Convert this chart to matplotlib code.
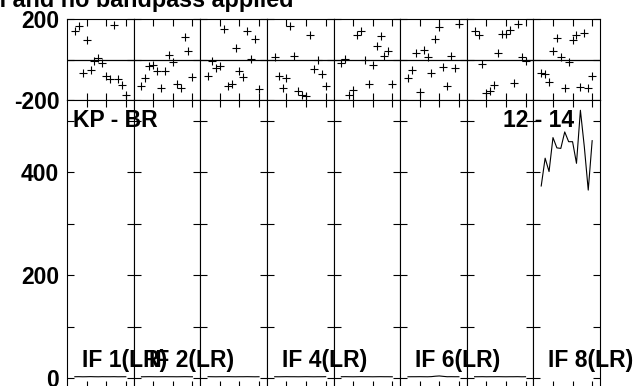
import numpy as np
import matplotlib.pyplot as plt

plt.rcParams['font.family'] = ['Liberation Sans', 'DejaVu Sans']
plt.rcParams['font.weight'] = 'bold'
plt.rcParams['font.size'] = 16.5

# channels plotted in every IF
chan = np.arange(2, 16)
if_labels = ['IF 1(LR)', 'IF 2(LR)', '', 'IF 4(LR)', '', 'IF 6(LR)', '', 'IF 8(LR)']
title = 'No cal and no bandpass applied'
baseline_label = 'KP - BR'
time_label = '12 - 14'

# phase (deg) per IF, channels 2..15
phase = [
    [140, 167, -67, 98, -50, -8, 8, -17, -80, -97, 170, -97, -125, -173],
    [-133, -93, -33, -27, -55, -143, -55, 20, -13, -120, -140, 110, 40, -88],
    [-83, -5, -43, -30, 150, -130, -122, 57, -57, -88, 143, 3, 103, -147],
    [10, -80, -140, -93, 167, 17, -157, -173, -180, 123, -47, -3, -73, -130],
    [-17, 3, -177, -150, 123, 140, 0, -123, -27, 67, 117, 17, 43, -120],
    [-93, -50, 33, -160, 47, 13, -67, 103, 160, -37, -133, 17, -40, 177],
    [143, 120, -22, -163, -157, -127, 33, 127, 127, 147, -117, 177, 10, -7],
    [-67, -73, -110, 43, 107, 10, -140, -10, 97, 123, -137, 133, -143, -80],
]
# amplitude per IF, channels 2..15
amp = [
    [2.5, 2.6, 2.4, 2.5, 2.7, 2.5, 2.4, 2.6, 2.5, 2.5, 2.6, 2.4, 2.5, 2.5],
    [2.4, 2.5, 2.6, 2.5, 2.4, 2.5, 2.6, 2.5, 2.5, 2.4, 2.5, 2.6, 2.5, 2.4],
    [2.6, 2.5, 2.4, 2.5, 2.5, 2.6, 2.5, 2.4, 2.5, 2.5, 2.6, 2.5, 2.4, 2.5],
    [2.5, 2.4, 2.5, 2.6, 2.5, 2.5, 2.4, 2.5, 2.6, 2.5, 2.4, 2.5, 2.5, 2.6],
    [2.5, 2.6, 2.5, 2.4, 2.5, 2.6, 2.5, 2.5, 2.4, 2.5, 2.6, 2.5, 2.5, 2.4],
    [2.4, 2.5, 2.5, 2.6, 2.5, 2.4, 2.7, 3.5, 4.0, 3.2, 2.5, 2.6, 2.5, 2.5],
    [2.5, 2.5, 2.6, 2.4, 2.5, 2.5, 2.6, 2.5, 2.4, 2.5, 2.5, 2.6, 2.4, 2.5],
    [373, 427, 401, 467, 447, 446, 478, 459, 459, 417, 520, 449, 365, 461],
]

W, H = 636, 386
fig = plt.figure(figsize=(W / 100, H / 100), dpi=100)

x0 = 67.0
pw = 533.0 / 8

def px(x, y, w, h):
    # pixel box (top-left origin) -> figure fraction rect
    return [x / W, (H - y - h) / H, w / W, h / H]

for i in range(8):
    left = x0 + i * pw
    axp = fig.add_axes(px(left, 19, pw, 81))
    axa = fig.add_axes(px(left, 100, pw, 288))

    axp.plot(chan, phase[i], '+', color='black', ms=5.5, mew=0.8)
    axp.axhline(0, color='black', lw=0.9)
    axp.set_xlim(0, 17)
    axp.set_ylim(-200, 200)
    axp.set_yticks([-200, 0, 200])

    axa.plot(chan, amp[i], color='black', lw=0.8)
    axa.set_xlim(0, 17)
    axa.set_ylim(-19.4, 540)
    axa.set_yticks([0, 100, 200, 300, 400, 500])

    for ax in (axp, axa):
        ax.set_xticks([5, 10, 15])
        ax.tick_params(direction='in', length=5, width=0.8, top=True, right=True,
                       labelbottom=False, labelleft=(i == 0), pad=5.5)
        for s in ax.spines.values():
            s.set_linewidth(0.8)

    if i == 0:
        axp.set_yticklabels(['-200', '', '200'])
        axa.set_yticklabels(['0', '', '200', '', '400', ''])

    if if_labels[i]:
        fig.text((left + 15) / W, 1 - 367 / H, if_labels[i], ha='left', va='baseline')

fig.text(73 / W, 1 - 127 / H, baseline_label, ha='left', va='baseline')
fig.text(574 / W, 1 - 127 / H, time_label, ha='right', va='baseline')
fig.text(293 / W, 1 - 7.5 / H, title, ha='right', va='baseline', fontsize=16.8)

fig.savefig('out.png', dpi=100)
